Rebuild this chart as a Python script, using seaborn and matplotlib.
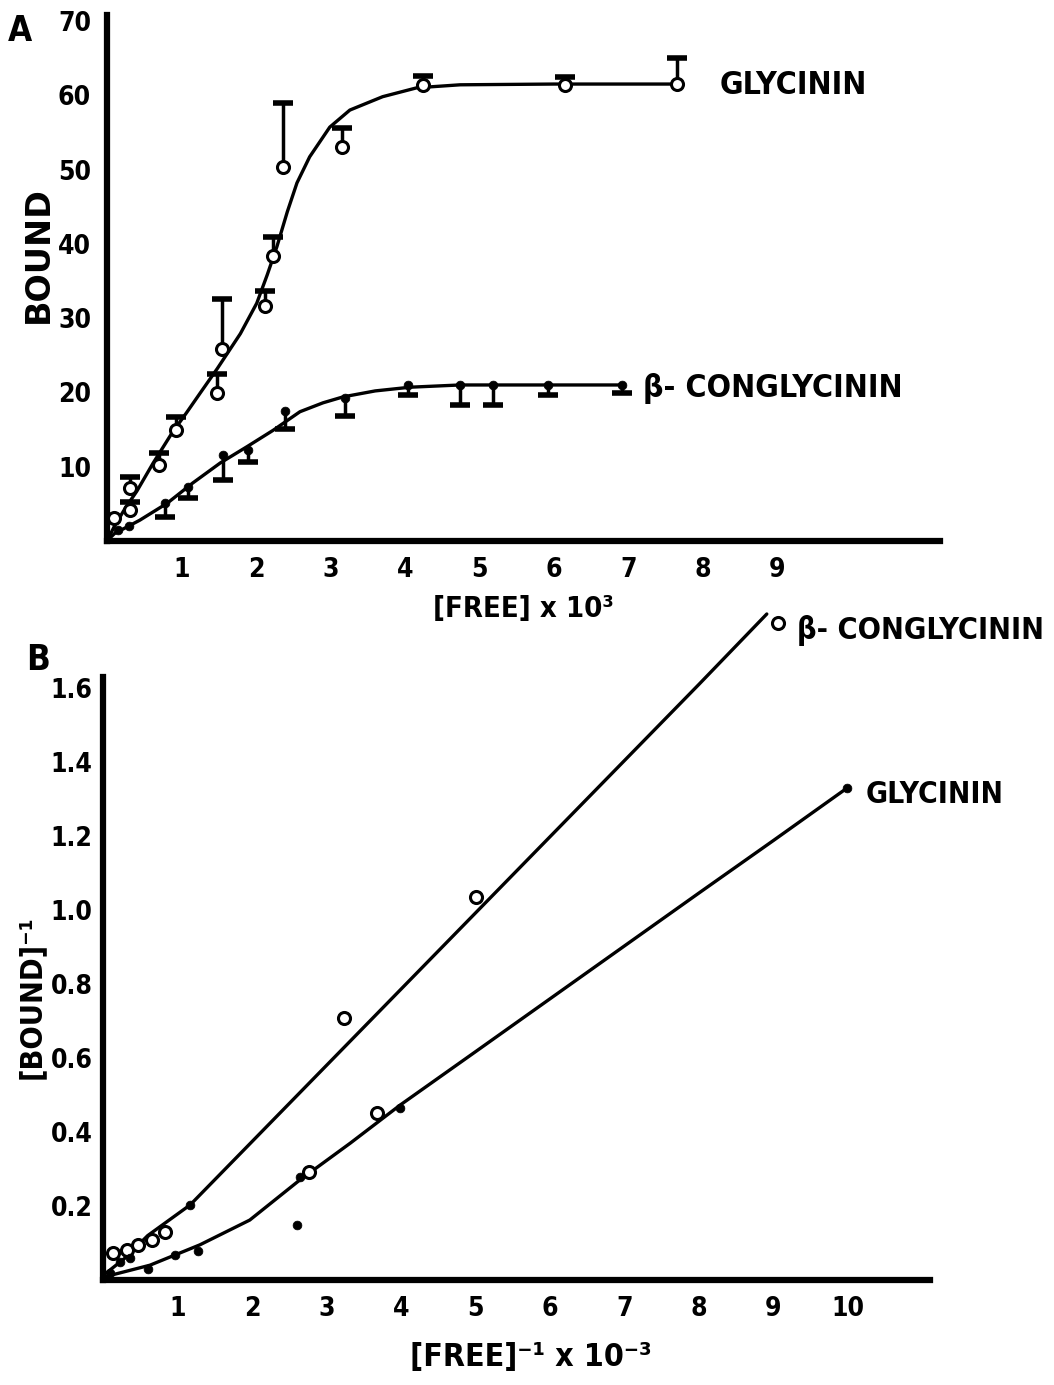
import numpy as np
import pandas as pd
import matplotlib
matplotlib.use("Agg")
import matplotlib.pyplot as plt
import seaborn as sns

# ---------------- Panel A data ----------------
gly_x = [0.10, 0.31, 0.31, 0.70, 0.93, 1.48, 1.54, 2.12, 2.23, 2.36, 3.15, 4.24, 6.15, 7.65]
gly_y = [3.1, 4.2, 7.1, 10.2, 14.9, 19.9, 25.8, 31.6, 38.4, 50.3, 53.0, 61.4, 61.4, 61.5]
gly_err = [0.0, 1.0, 1.5, 1.6, 1.8, 2.6, 6.8, 2.0, 2.5, 8.7, 2.6, 1.2, 1.1, 3.5]

gly_curve_x = [0.0, 0.10, 0.25, 0.40, 0.62, 0.87, 1.07, 1.25, 1.48, 1.79, 2.01, 2.15, 2.28,
               2.42, 2.55, 2.72, 2.99, 3.26, 3.70, 4.16, 4.74, 6.00, 7.65]
gly_curve_y = [0.0, 2.0, 4.5, 6.7, 10.5, 14.5, 17.3, 19.9, 23.2, 27.9, 32.0, 35.8, 39.6,
               44.3, 48.2, 51.7, 55.7, 58.0, 59.8, 61.0, 61.4, 61.5, 61.5]

cong_x = [0.15, 0.30, 0.78, 1.09, 1.56, 1.89, 2.39, 3.19, 4.04, 4.74, 5.18, 5.92, 6.91]
cong_y = [1.5, 2.0, 5.1, 7.3, 11.6, 12.2, 17.5, 19.2, 21.0, 21.0, 21.0, 21.0, 21.0]
cong_err = [0.0, 0.0, 1.9, 1.5, 3.4, 1.6, 2.4, 2.4, 1.4, 2.7, 2.7, 1.4, 1.1]

cong_curve_x = [0.0, 0.10, 0.44, 0.81, 1.15, 1.52, 1.88, 2.23, 2.59, 2.90, 3.17, 3.60, 4.07,
                4.74, 6.91]
cong_curve_y = [0.0, 1.0, 2.8, 5.1, 7.8, 10.5, 12.7, 14.9, 17.4, 18.6, 19.4, 20.2, 20.7,
                21.0, 21.0]

a_xticks = [1, 2, 3, 4, 5, 6, 7, 8, 9]
a_xticks_unlabeled = [10, 11]
a_yticks = [10, 20, 30, 40, 50, 60, 70]

# ---------------- Panel B data ----------------
bc_open_x = [0.13, 0.32, 0.47, 0.66, 0.83, 3.24, 5.01, 9.06]
bc_open_y = [0.073, 0.08, 0.095, 0.108, 0.13, 0.708, 1.035, 1.776]
bc_line_x = [0.05, 0.30, 0.60, 1.17, 2.0, 3.0, 4.0, 5.0, 6.0, 7.0, 8.0, 8.91]
bc_line_y = [0.02, 0.06, 0.12, 0.203, 0.374, 0.58, 0.786, 0.992, 1.198, 1.404, 1.61, 1.80]

bg_open_x = [2.77, 3.68]
bg_open_y = [0.292, 0.451]
bg_dot_x = [0.10, 0.23, 0.36, 0.60, 0.97, 1.17, 1.28, 2.61, 2.64, 3.99, 9.99]
bg_dot_y = [0.02, 0.05, 0.06, 0.03, 0.068, 0.203, 0.078, 0.149, 0.278, 0.465, 1.33]
bg_line_x = [0.05, 0.63, 1.30, 1.97, 2.64, 3.32, 3.99, 5.0, 6.0, 7.0, 8.0, 9.0, 9.99]
bg_line_y = [0.01, 0.04, 0.095, 0.162, 0.27, 0.37, 0.473, 0.617, 0.760, 0.903, 1.046, 1.188, 1.33]

b_xticks = [1, 2, 3, 4, 5, 6, 7, 8, 9, 10]
b_xticks_unlabeled = [11]
b_yticks = [0.2, 0.4, 0.6, 0.8, 1.0, 1.2, 1.4, 1.6]
b_yticklabels = ["0.2", "0.4", "0.6", "0.8", "1.0", "1.2", "1.4", "1.6"]

# ---------------- Style ----------------
sns.set_theme(style="white")
plt.rcParams["font.family"] = ["DejaVu Sans"]
plt.rcParams["font.stretch"] = "condensed"
plt.rcParams["font.weight"] = "bold"
for k in ["text.color", "axes.labelcolor", "xtick.color", "ytick.color"]:
    plt.rcParams[k] = "black"

FS = 19
LFS = 23
fig = plt.figure(figsize=(10.54, 13.85), dpi=100)

axA = fig.add_axes([107 / 1054, 1 - 541 / 1385, (940 - 107) / 1054, (541 - 15) / 1385])
B_TOP = 1.84
axB = fig.add_axes([103 / 1054, 1 - 1280 / 1385, (930 - 103) / 1054, B_TOP * 370 / 1385])


def style_axis(ax, xt, xt_unl, yt, ytl, fs=FS, ypad=8):
    for s in ["top", "right"]:
        ax.spines[s].set_visible(False)
    for s in ["left", "bottom"]:
        ax.spines[s].set_linewidth(4.5)
        ax.spines[s].set_color("black")
    ax.set_xticks(list(xt) + list(xt_unl))
    ax.set_xticklabels([str(v) for v in xt] + [""] * len(xt_unl))
    ax.set_yticks(yt)
    ax.set_yticklabels(ytl)
    ax.tick_params(axis="both", direction="inout", length=7, width=4, colors="black",
                   labelsize=fs, pad=8)
    ax.tick_params(axis="y", pad=ypad)
    for lab in ax.get_xticklabels() + ax.get_yticklabels():
        lab.set_fontweight("bold")
    ax.grid(False)
    ax.set_facecolor("none")


def one_sided_errors(ax, xs, ys, errs, direction):
    ends = [y + direction * e for y, e in zip(ys, errs)]
    keep = [i for i, e in enumerate(errs) if e > 0]
    ax.vlines([xs[i] for i in keep], [ys[i] for i in keep], [ends[i] for i in keep],
              colors="black", linewidth=2.5, zorder=3)
    sns.scatterplot(x=[xs[i] for i in keep], y=[ends[i] for i in keep], ax=ax,
                    marker="_", s=210, color="black", linewidth=4, zorder=3)


# ---------------- Panel A ----------------
sns.lineplot(x=gly_curve_x, y=gly_curve_y, ax=axA, color="black", lw=2.4, sort=False)
sns.lineplot(x=cong_curve_x, y=cong_curve_y, ax=axA, color="black", lw=2.4, sort=False)

one_sided_errors(axA, gly_x, gly_y, gly_err, +1)
sns.scatterplot(x=gly_x, y=gly_y, ax=axA, marker="o", s=75, facecolor="white",
                edgecolor="black", linewidth=2.2, zorder=5)
one_sided_errors(axA, cong_x, cong_y, cong_err, -1)
sns.scatterplot(x=cong_x, y=cong_y, ax=axA, marker="o", s=40, color="black",
                edgecolor="black", zorder=5)

axA.set_xlim(0, (940 - 107) / 74.5)
axA.set_ylim(0, (541 - 15) / 7.43)
style_axis(axA, a_xticks, a_xticks_unlabeled, a_yticks, [str(v) for v in a_yticks])
axA.set_xlabel("[FREE] x 10³", fontsize=LFS - 2, fontweight="bold", labelpad=9)
axA.set_ylabel("BOUND", fontsize=24, fontweight="bold", fontstretch="normal")
axA.yaxis.set_label_coords((55 - 107) / 833, 0.544)
fig.text(720 / 1054, 1 - 85 / 1385, "GLYCININ", fontsize=LFS, fontweight="bold",
         va="center", ha="left")
fig.text(643 / 1054, 1 - 388 / 1385, "β- CONGLYCININ", fontsize=LFS, fontweight="bold",
         va="center", ha="left")
fig.text(8 / 1054, 1 - 31 / 1385, "A", fontsize=25, fontweight="bold", va="center")

# ---------------- Panel B ----------------
sns.lineplot(x=bc_line_x, y=bc_line_y, ax=axB, color="black", lw=2.4, sort=False)
sns.lineplot(x=bg_line_x, y=bg_line_y, ax=axB, color="black", lw=2.4, sort=False)
sns.scatterplot(x=bc_open_x, y=bc_open_y, ax=axB, marker="o", s=75, facecolor="white",
                edgecolor="black", linewidth=2.2, zorder=5)
sns.scatterplot(x=bg_open_x, y=bg_open_y, ax=axB, marker="o", s=75, facecolor="white",
                edgecolor="black", linewidth=2.2, zorder=5)
sns.scatterplot(x=bg_dot_x, y=bg_dot_y, ax=axB, marker="o", s=40, color="black",
                edgecolor="black", zorder=5)

axB.set_xlim(0, (930 - 103) / 74.5)
axB.set_ylim(0, B_TOP)
style_axis(axB, b_xticks, b_xticks_unlabeled, b_yticks, b_yticklabels, ypad=4)
axB.spines["left"].set_bounds(0, 1.63)
axB.set_xlabel("[FREE]⁻¹ x 10⁻³", fontsize=LFS, fontweight="bold")
axB.xaxis.set_label_coords((531 - 103) / 827, (1280 - 1342) / 681)
axB.set_ylabel("[BOUND]⁻¹", fontsize=22, fontweight="bold")
axB.yaxis.set_label_coords((46 - 103) / 827, (1280 - 997) / 681)
fig.text(797 / 1054, 1 - 630 / 1385, "β- CONGLYCININ", fontsize=22, fontweight="bold",
         va="center", ha="left")
fig.text(866 / 1054, 1 - 794 / 1385, "GLYCININ", fontsize=21.5, fontweight="bold",
         va="center", ha="left")
fig.text(26 / 1054, 1 - 660 / 1385, "B", fontsize=25, fontweight="bold", va="center")

fig.savefig("out.png", dpi=100, facecolor="white")
